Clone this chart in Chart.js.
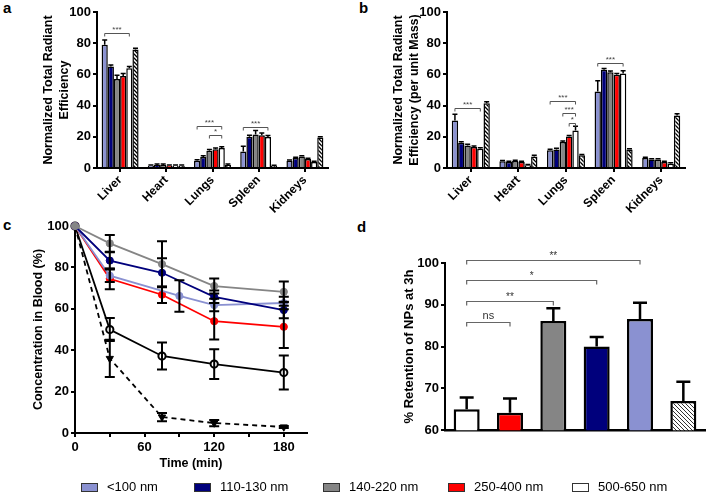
<!DOCTYPE html>
<html>
<head>
<meta charset="utf-8">
<script src="https://cdn.jsdelivr.net/npm/chart.js@4.4.0/dist/chart.umd.min.js"></script>
<style>
body{margin:0;background:#fff;width:707px;height:493px;position:relative;overflow:hidden;font-family:"Liberation Sans",Arial,sans-serif}
canvas{position:absolute}
.lbl{position:absolute;font-weight:bold;font-size:15px;line-height:15px}
.leg{position:absolute;top:480px;font-size:13px;line-height:14px;color:#000;white-space:nowrap}
.leg i{display:inline-block;width:15px;height:7px;border:1.5px solid #333;vertical-align:-1px;margin-right:9px}
</style>
</head>
<body>
<div class="lbl" style="left:3px;top:0">a</div>
<div class="lbl" style="left:359px;top:0">b</div>
<div class="lbl" style="left:3px;top:217px">c</div>
<div class="lbl" style="left:357px;top:219px">d</div>

<canvas id="ca" width="350" height="215" style="left:0;top:0"></canvas>
<canvas id="cb" width="357" height="215" style="left:350px;top:0"></canvas>
<canvas id="cc" width="350" height="275" style="left:0;top:200px"></canvas>
<canvas id="cd" width="357" height="240" style="left:350px;top:200px"></canvas>
<div id="legend"></div>

<script>
// ---- data ----
const organs = ['Liver', 'Heart', 'Lungs', 'Spleen', 'Kidneys'];
const sizes = ['<100 nm', '110-130 nm', '140-220 nm', '250-400 nm', '500-650 nm', 'dye'];

// panel a: normalized total radiant efficiency, one array per size, over organs
const aLb    = [79, 1.5, 4.7, 10.5, 4.7];
const aNavy  = [65, 2, 7, 20, 6.4];
const aGray  = [57, 2, 11, 21.5, 7.4];
const aRed   = [59, 1.5, 12, 21, 5.7];
const aWhite = [64, 1.5, 12.8, 19.8, 3.8];
const aDye   = [76, 1.5, 2, 1.5, 19.5];
const aErr = [
  [3, 0.5, 0.6, 3.5, 0.5],
  [1, 0.5, 0.8, 1, 0.5],
  [2.5, 0.5, 0.8, 2.5, 0.5],
  [1.5, 0.5, 0.8, 1.5, 0.5],
  [1, 0.5, 0.8, 1, 0.5],
  [0.8, 0.5, 0.5, 0.3, 0.5]
];
// [organ, from series, to series, height, label]
const aSig = [[0, 0, 4, 86.6, '***'], [2, 0, 4, 27, '***'], [2, 2, 4, 21.3, '*'], [3, 0, 4, 26.6, '***']];

// panel b: per unit mass
const bLb    = [30.4, 4.3, 11.3, 49, 6.4];
const bNavy  = [16.2, 3.8, 11.9, 63, 5.5];
const bGray  = [14.5, 4.5, 16.6, 61.3, 5.5];
const bRed   = [13.4, 3.8, 20.2, 59.8, 3.8];
const bWhite = [12.3, 1.7, 24, 60.6, 2.8];
const bDye   = [41.5, 7.4, 8.1, 11.9, 33.6];
const bErr = [
  [4, 0.5, 0.7, 7, 0.5],
  [0.7, 0.5, 0.7, 0.8, 0.5],
  [0.7, 0.5, 0.7, 0.8, 0.5],
  [0.7, 0.5, 0.7, 0.8, 0.5],
  [0.7, 0.5, 2.8, 1.8, 0.5],
  [1, 0.7, 0.5, 0.5, 1.2]
];
const bSig = [[0, 0, 4, 38.5, '***'], [2, 0, 4, 43, '***'], [2, 2, 4, 35.3, '***'], [2, 3, 4, 29, '*'], [3, 0, 4, 67, '***']];

// panel c: concentration in blood over time
const tMain = [0, 30, 75, 120, 180];
const tLb   = [0, 30, 90, 120, 180];
const cGray  = [100, 91.6, 81.6, 71, 68.2];
const cNavy  = [100, 83.3, 77.4, 65.8, 59.4];
const cLb    = [100, 76, 66.2, 61.8, 62.8];
const cRed   = [100, 74.5, 66.8, 54, 51.3];
const cWhite = [100, 50, 37.2, 33.3, 29.2];
const cDye   = [100, 36, 7.7, 4.8, 2.9];
const cGrayErr  = [0, 4, 11, 3.6, 5];
const cNavyErr  = [0, 4, 7, 3, 4];
const cLbErr    = [0, 3, 7.6, 3, 3];
const cRedErr   = [0, 5, 4, 8.8, 10.2];
const cWhiteErr = [0, 5.6, 6.5, 7.2, 8.2];
const cDyeErr   = [0, 9, 2, 1.5, 0.5];
const timeMarks = [0, 30, 60, 90, 120, 150, 180];
const timeTicks = [0, 60, 120, 180];

// panel d: retention at 3h
const dGroups = ['500-650 nm', '250-400 nm', '140-220 nm', '110-130 nm', '<100 nm', 'dye'];
const dVals = [65, 64.2, 86.1, 80, 86.6, 67];
const dErr  = [2.8, 3.4, 3.1, 2.3, 3.9, 4.6];
const dSig = [[0, 1, 86, 'ns'], [0, 2, 90.8, '**'], [0, 3, 95.9, '*'], [0, 4, 100.6, '**']];

// ---- styles ----
const LB = '#8a91d1', NAVY = '#00007c', GRAY = '#858585', RED = '#ff0000';
Chart.defaults.font.family = '"Liberation Sans", Arial, sans-serif';
Chart.defaults.color = '#000';
Chart.defaults.animation = false;

function hatch(step, lw, col) {
  const c = document.createElement('canvas');
  c.width = c.height = step;
  const g = c.getContext('2d');
  g.fillStyle = '#fff';
  g.fillRect(0, 0, step, step);
  g.strokeStyle = col;
  g.lineWidth = lw;
  g.beginPath();
  g.moveTo(0, 0); g.lineTo(step, step);
  g.moveTo(-1, step - 1); g.lineTo(1, step + 1);
  g.moveTo(step - 1, -1); g.lineTo(step + 1, 1);
  g.stroke();
  return g.createPattern(c, 'repeat');
}

function yAxis(min, max, step, title, titlePad, width, titleSize) {
  return {
    min, max,
    ticks: { stepSize: step, font: { size: 13, weight: 'bold' }, padding: 2 },
    grid: { drawOnChartArea: false, tickLength: 4, color: '#000', lineWidth: 2 },
    border: { color: '#000', width: 2 },
    title: { display: true, text: title, font: { size: titleSize, weight: 'bold', lineHeight: 1.3 }, padding: { top: titlePad, bottom: 0 } },
    afterFit(s) { s.width = width; }
  };
}

// bar error bars (up only) + significance brackets
function barExtras(errs, sigs) {
  return {
    id: 'barExtras',
    afterDatasetsDraw(chart) {
      const ctx = chart.ctx, y = chart.scales.y;
      ctx.save();
      ctx.strokeStyle = '#000';
      ctx.lineWidth = 1.5;
      errs.forEach((arr, di) => {
        const meta = chart.getDatasetMeta(di);
        arr.forEach((e, i) => {
          const bar = meta.data[i];
          const v = chart.data.datasets[di].data[i];
          const y1 = y.getPixelForValue(v + e);
          ctx.beginPath();
          ctx.moveTo(bar.x, bar.y); ctx.lineTo(bar.x, y1);
          ctx.moveTo(bar.x - 2.5, y1); ctx.lineTo(bar.x + 2.5, y1);
          ctx.stroke();
        });
      });
      ctx.strokeStyle = '#555';
      ctx.fillStyle = '#444';
      ctx.lineWidth = 1;
      ctx.font = '8px "Liberation Sans", Arial';
      ctx.textAlign = 'center';
      sigs.forEach(([cat, a, b, h, txt]) => {
        const x1 = chart.getDatasetMeta(a).data[cat].x;
        const x2 = chart.getDatasetMeta(b).data[cat].x;
        const yy = Math.round(y.getPixelForValue(h)) + 0.5;
        ctx.beginPath();
        ctx.moveTo(x1, yy + 3); ctx.lineTo(x1, yy); ctx.lineTo(x2, yy); ctx.lineTo(x2, yy + 3);
        ctx.stroke();
        ctx.fillText(txt, (x1 + x2) / 2, yy - 2);
      });
      ctx.restore();
    }
  };
}

function organChart(id, series, errs, sigs, title) {
  const fills = [LB, NAVY, GRAY, RED, '#fff', hatch(4, 1.3, '#000')];
  new Chart(document.getElementById(id), {
    type: 'bar',
    data: {
      labels: organs,
      datasets: series.map((d, i) => ({
        label: sizes[i], data: d, backgroundColor: fills[i],
        borderColor: '#000', borderWidth: 1.5,
        categoryPercentage: 0.8, barPercentage: 1
      }))
    },
    options: {
      responsive: false,
      devicePixelRatio: 1,
      layout: { padding: { top: 12, right: 22, bottom: 0, left: 0 } },
      plugins: { legend: { display: false }, tooltip: { enabled: false } },
      scales: {
        x: {
          ticks: { font: { size: 12, weight: 'bold' }, minRotation: 45, maxRotation: 45, padding: 1 },
          grid: { drawOnChartArea: false, offset: false, tickLength: 4, color: '#000', lineWidth: 2 },
          border: { color: '#000', width: 2 },
          afterFit(s) { s.height = 47; }
        },
        y: yAxis(0, 100, 20, title, 40, 97, 12.5)
      }
    },
    plugins: [barExtras(errs, sigs)]
  });
}

organChart('ca', [aLb, aNavy, aGray, aRed, aWhite, aDye], aErr, aSig,
  ['Normalized Total Radiant', 'Efficiency']);
organChart('cb', [bLb, bNavy, bGray, bRed, bWhite, bDye], bErr, bSig,
  ['Normalized Total Radiant', 'Efficiency (per unit Mass)']);

// ---- panel c ----
function pts(ts, vs) { return ts.map((t, i) => ({ x: t, y: vs[i] })); }
const lineSets = [
  { t: tMain, v: cGray, e: cGrayErr, col: GRAY, style: 'circle', fill: GRAY },
  { t: tMain, v: cNavy, e: cNavyErr, col: NAVY, style: 'circle', fill: NAVY },
  { t: tLb, v: cLb, e: cLbErr, col: LB, style: 'circle', fill: LB },
  { t: tMain, v: cRed, e: cRedErr, col: RED, style: 'circle', fill: RED },
  { t: tMain, v: cWhite, e: cWhiteErr, col: '#000', style: 'circle', fill: '#fff' },
  { t: tMain, v: cDye, e: cDyeErr, col: '#000', style: 'triangle', fill: '#000', dash: [5, 4] }
];
const lineErrPlugin = {
  id: 'lineErr',
  afterDatasetsDraw(chart) {
    const ctx = chart.ctx, x = chart.scales.x, y = chart.scales.y;
    ctx.save();
    ctx.strokeStyle = '#000';
    ctx.lineWidth = 2;
    lineSets.forEach(s => {
      s.t.forEach((t, i) => {
        if (!s.e[i]) return;
        const px = x.getPixelForValue(t);
        const y0 = y.getPixelForValue(s.v[i] - s.e[i]);
        const y1 = y.getPixelForValue(s.v[i] + s.e[i]);
        ctx.beginPath();
        ctx.moveTo(px, y0); ctx.lineTo(px, y1);
        ctx.moveTo(px - 5, y0); ctx.lineTo(px + 5, y0);
        ctx.moveTo(px - 5, y1); ctx.lineTo(px + 5, y1);
        ctx.stroke();
      });
    });
    ctx.restore();
  }
};
new Chart(document.getElementById('cc'), {
  type: 'line',
  data: {
    datasets: lineSets.map(s => ({
      data: pts(s.t, s.v), borderColor: s.col, borderWidth: 1.8, borderDash: s.dash || [],
      pointStyle: s.style, pointRotation: s.style === 'triangle' ? 180 : 0,
      pointRadius: s.style === 'triangle' ? 4.2 : 3.6, pointBackgroundColor: s.fill,
      pointBorderColor: s.col, pointBorderWidth: s.fill === '#fff' ? 2 : 1,
      clip: false, tension: 0
    }))
  },
  options: {
    responsive: false,
    devicePixelRatio: 1,
    layout: { padding: { top: 26, right: 43, bottom: 0, left: 0 } },
    plugins: { legend: { display: false }, tooltip: { enabled: false } },
    scales: {
      x: {
        type: 'linear', min: 0, max: 200,
        ticks: { autoSkip: false, maxRotation: 0, font: { size: 13, weight: 'bold' }, padding: 3,
          callback: v => timeTicks.includes(v) ? v : '' },
        grid: { drawOnChartArea: false, tickLength: 4, color: '#000', lineWidth: 2 },
        border: { color: '#000', width: 2 },
        title: { display: true, text: 'Time (min)', font: { size: 12.5, weight: 'bold', lineHeight: 1.3 }, padding: { top: 0, bottom: 3 } },
        afterBuildTicks(s) { s.ticks = timeMarks.map(v => ({ value: v })); },
        afterFit(s) { s.height = 42; }
      },
      y: yAxis(0, 100, 20, 'Concentration in Blood (%)', 30, 75, 12.5)
    }
  },
  plugins: [lineErrPlugin]
});

// ---- panel d ----
const dPlugin = {
  id: 'dExtras',
  afterDatasetsDraw(chart) {
    const ctx = chart.ctx, y = chart.scales.y, meta = chart.getDatasetMeta(0);
    ctx.save();
    ctx.strokeStyle = '#000';
    ctx.lineWidth = 2.5;
    dVals.forEach((v, i) => {
      const b = meta.data[i];
      const y1 = y.getPixelForValue(v + dErr[i]);
      ctx.beginPath();
      ctx.moveTo(b.x, b.y); ctx.lineTo(b.x, y1);
      ctx.moveTo(b.x - 7, y1); ctx.lineTo(b.x + 7, y1);
      ctx.stroke();
    });
    ctx.strokeStyle = '#666';
    ctx.fillStyle = '#333';
    ctx.lineWidth = 1.2;
    ctx.textAlign = 'center';
    dSig.forEach(([a, b, h, txt]) => {
      const x1 = meta.data[a].x, x2 = meta.data[b].x;
      const yy = Math.round(y.getPixelForValue(h)) + 0.5;
      ctx.beginPath();
      ctx.moveTo(x1, yy + 4); ctx.lineTo(x1, yy); ctx.lineTo(x2, yy); ctx.lineTo(x2, yy + 4);
      ctx.stroke();
      ctx.font = txt === 'ns' ? '11px "Liberation Sans", Arial' : '10px "Liberation Sans", Arial';
      ctx.fillText(txt, (x1 + x2) / 2, yy - (txt === 'ns' ? 4 : 2));
    });
    ctx.restore();
  }
};
new Chart(document.getElementById('cd'), {
  type: 'bar',
  data: {
    labels: dGroups,
    datasets: [{
      data: dVals,
      backgroundColor: ['#fff', RED, GRAY, NAVY, LB, hatch(4, 1, '#333')],
      borderColor: '#000', borderWidth: 2.5, borderSkipped: false,
      categoryPercentage: 0.6, barPercentage: 1
    }]
  },
  options: {
    responsive: false,
    devicePixelRatio: 1,
    layout: { padding: { top: 63, right: 2, bottom: 6, left: 0 } },
    plugins: { legend: { display: false }, tooltip: { enabled: false } },
    scales: {
      x: {
        ticks: { display: false },
        grid: { display: false },
        border: { color: '#000', width: 2.5 },
        afterFit(s) { s.height = 0; }
      },
      y: yAxis(60, 100, 10, '% Retention of NPs at 3h', 51, 95, 13)
    }
  },
  plugins: [dPlugin]
});

// ---- legend ----
const legCols = [LB, NAVY, GRAY, RED, '#fff'];
const legX = [81, 194, 323, 448, 572];
document.getElementById('legend').innerHTML = sizes.slice(0, 5).map((s, i) =>
  `<div class="leg" style="left:${legX[i]}px"><i style="background:${legCols[i]}"></i>${s}</div>`).join('');
</script>
</body>
</html>
